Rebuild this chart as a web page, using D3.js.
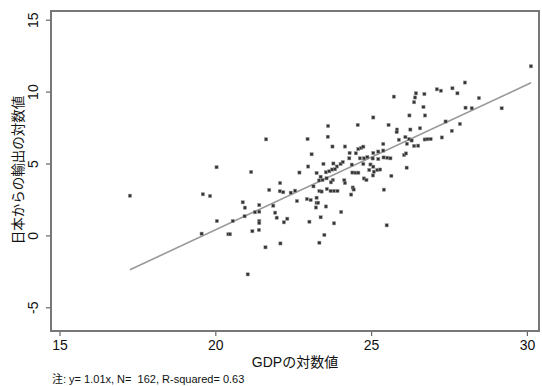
<!DOCTYPE html>
<html>
<head>
<meta charset="utf-8">
<script src="https://cdn.jsdelivr.net/npm/d3@7"></script>
<style>
html,body{margin:0;padding:0;background:#fff;}
svg{display:block;}
</style>
</head>
<body>
<svg id="chart" width="542" height="386"></svg>
<script>
// Data: log GDP (x) vs log exports from Japan (y)
const gdpLog = [17.26,19.60,19.83,20.04,19.56,20.05,20.42,20.47,20.56,21.04,21.15,20.88,20.95,20.94,21.19,21.40,21.27,21.41,21.41,21.41,21.41,21.61,21.63,21.73,21.86,21.92,21.97,22.08,22.07,22.18,22.09,22.20,22.31,22.42,22.56,22.62,22.70,22.96,23.62,23.61,24.57,23.76,24.16,24.59,24.68,24.75,23.09,24.31,24.51,24.30,24.64,24.77,24.88,23.47,23.79,23.90,24.02,24.09,22.98,24.38,24.75,23.25,23.55,23.66,23.75,23.84,24.40,24.50,24.59,23.38,23.33,23.44,23.57,23.77,23.71,24.14,24.16,23.15,23.34,23.41,23.58,23.70,23.81,23.92,24.41,24.44,24.36,22.94,23.06,23.25,23.25,23.30,23.23,23.55,24.04,23.02,23.38,23.81,23.50,23.34,24.77,24.85,25.06,24.94,25.09,25.20,25.29,24.98,25.07,25.05,25.23,25.40,25.52,25.62,25.07,25.23,25.39,25.39,25.56,25.83,25.82,26.26,26.57,26.23,26.73,27.39,27.85,27.59,27.27,25.89,26.10,26.22,26.30,26.15,26.38,26.51,26.72,26.81,26.91,26.06,26.12,26.14,25.65,25.41,25.50,25.07,28.01,27.11,27.24,27.61,27.77,26.44,26.71,25.73,26.41,26.38,28.46,26.68,28.03,28.23,29.19,30.13];
const exportLog = [2.76,2.86,2.74,4.74,0.12,1.00,0.08,0.08,1.00,-2.71,4.41,2.30,1.93,1.33,0.29,0.38,1.61,1.65,2.11,1.00,0.86,-0.83,6.68,3.16,2.07,1.58,1.23,3.64,3.07,3.00,-0.56,0.91,1.16,2.97,3.11,2.39,4.37,6.70,7.61,6.86,7.68,6.18,6.18,6.01,6.08,6.17,5.64,5.73,5.71,5.36,5.36,5.36,5.45,4.97,5.00,4.79,4.97,5.10,4.79,4.92,4.97,4.34,4.39,4.46,4.58,4.60,4.37,4.36,4.36,4.08,3.82,3.85,3.97,3.85,3.69,3.83,3.64,3.41,3.09,3.05,3.23,3.09,3.09,3.09,3.33,3.19,2.84,2.53,2.46,2.62,2.27,2.27,1.94,2.01,1.63,0.95,1.26,0.84,0.03,-0.51,3.96,3.85,4.17,4.55,4.43,4.55,4.58,4.93,4.78,5.35,5.31,5.42,5.40,5.36,5.73,5.83,5.90,6.36,7.68,7.36,7.19,7.36,7.45,8.34,8.34,7.92,7.75,7.27,6.81,6.65,6.84,6.70,6.60,6.37,6.22,6.24,6.67,6.69,6.70,5.59,5.70,4.71,4.14,3.18,0.70,8.20,10.63,10.16,10.06,10.23,9.88,9.88,9.83,9.65,9.59,9.26,9.55,8.93,8.88,8.84,8.84,11.76];
const fitSlope = 1.01;
const fitIntercept = -19.82;
const xTicks = [15, 20, 25, 30];
const yTicks = [-5, 0, 5, 10, 15];
const xTitle = "GDPの対数値";
const yTitle = "日本からの輸出の対数値";
const note = "注: y= 1.01x, N=  162, R-squared= 0.63";

const svg = d3.select("#chart");
const L = 51, R = 539, T = 11, B = 331;
const x = d3.scaleLinear().domain([14.727, 30.388]).range([L, R]);
const y = d3.scaleLinear().domain([-6.648, 15.605]).range([B, T]);

const latin = "'Liberation Sans', Arial, 'Noto Sans CJK JP', sans-serif";
const cjk = "'Liberation Sans', 'Noto Sans CJK JP', sans-serif";
const fmt = d => String(d);

// axes
const xAxis = svg.append("g").attr("transform", `translate(0,${B})`)
  .call(d3.axisBottom(x).tickValues(xTicks).tickSize(5).tickPadding(4).tickFormat(fmt));
xAxis.select(".domain").remove();
xAxis.selectAll("line").attr("stroke", "#666").attr("stroke-width", 1.2);
xAxis.selectAll("text").attr("font-family", latin).attr("font-size", 14).attr("fill", "#111");

const yAxis = svg.append("g").attr("transform", `translate(${L},0)`)
  .call(d3.axisLeft(y).tickValues(yTicks).tickSize(5).tickPadding(0).tickFormat(fmt));
yAxis.select(".domain").remove();
yAxis.selectAll("line").attr("stroke", "#666").attr("stroke-width", 1.2);
yAxis.selectAll("text")
  .attr("font-family", latin).attr("font-size", 14).attr("fill", "#111")
  .attr("text-anchor", "middle").attr("x", null).attr("dy", null)
  .attr("transform", "translate(-17,0) rotate(-90)")
  .attr("dominant-baseline", "middle");

// frame
svg.append("rect").attr("x", L).attr("y", T).attr("width", R - L).attr("height", B - T)
  .attr("fill", "none").attr("stroke", "#777").attr("stroke-width", 2);

// fit line
const xMin = d3.min(gdpLog), xMax = d3.max(gdpLog);
svg.append("line")
  .attr("x1", x(xMin)).attr("y1", y(fitIntercept + fitSlope * xMin))
  .attr("x2", x(xMax)).attr("y2", y(fitIntercept + fitSlope * xMax))
  .attr("stroke", "#999").attr("stroke-width", 1.6);

// points
const pts = gdpLog.map((g, i) => [g, exportLog[i]]);
svg.append("g").selectAll("rect").data(pts).join("rect")
  .attr("x", d => x(d[0]) - 1.6).attr("y", d => y(d[1]) - 1.6)
  .attr("width", 3.2).attr("height", 3.2)
  .attr("fill", "#333").attr("stroke", "#999").attr("stroke-width", 0.5);

// titles
svg.append("text").attr("x", 295).attr("y", 367).attr("text-anchor", "middle")
  .attr("font-family", cjk).attr("font-size", 14).attr("fill", "#111").text(xTitle);
svg.append("text").attr("transform", "translate(23,170) rotate(-90)").attr("text-anchor", "middle")
  .attr("font-family", cjk).attr("font-size", 13.5).attr("fill", "#111").text(yTitle);
svg.append("text").attr("x", 52).attr("y", 383).style("white-space", "pre")
  .attr("font-family", cjk).attr("font-size", 11).attr("fill", "#111").text(note);
</script>
</body>
</html>
